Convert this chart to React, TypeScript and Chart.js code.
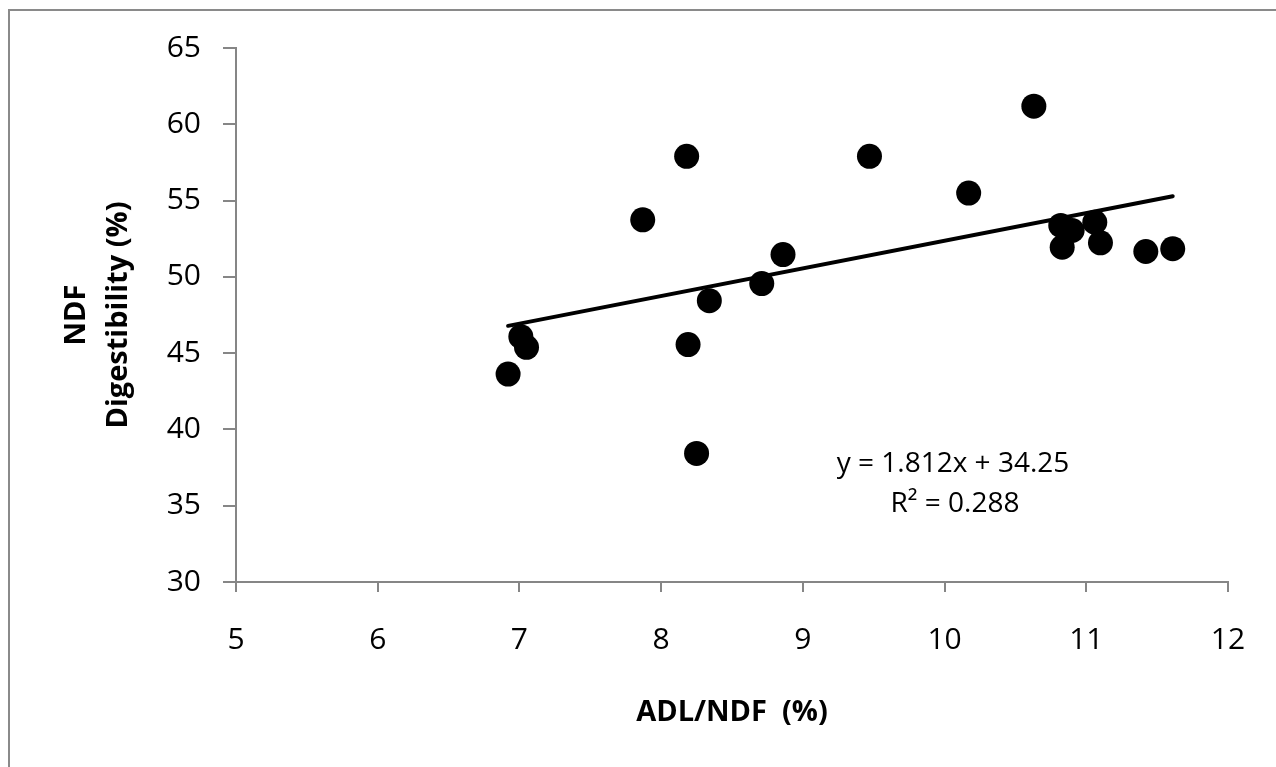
import React, { useEffect, useRef } from "react";
import { Chart, registerables } from "chart.js";

Chart.register(...registerables);

// ADL/NDF (%) values
const adlNdf = [
  8.18, 9.47, 7.87, 8.86, 8.71, 8.34, 7.01, 7.05, 6.92, 8.19, 8.25,
  10.63, 10.17, 10.82, 10.9, 11.06, 10.83, 11.1, 11.42, 11.61,
];
// NDF Digestibility (%) values
const ndfDigestibility = [
  57.9, 57.9, 53.74, 51.46, 49.56, 48.44, 46.08, 45.38, 43.63, 45.56, 38.43,
  61.19, 55.49, 53.37, 53.04, 53.58, 51.94, 52.23, 51.66, 51.84,
];

const xTicks = [5, 6, 7, 8, 9, 10, 11, 12];
const yTicks = [30, 35, 40, 45, 50, 55, 60, 65];

const trendSlope = 1.812;
const trendIntercept = 34.25;
const equationLines = ["y = 1.812x + 34.25", "R\u00b2 = 0.288"];

const xTitle = "ADL/NDF  (%)";
const yTitleLines = ["NDF", "Digestibility (%)"];

const FONT = '"Open Sans", "Noto Sans", sans-serif';
const AXIS_GRAY = "#868686";

export default function App() {
  const canvasRef = useRef<HTMLCanvasElement | null>(null);

  useEffect(() => {
    const canvas = canvasRef.current;
    if (!canvas) return;

    const minX = Math.min(...adlNdf);
    const maxX = Math.max(...adlNdf);

    const textPlugin = {
      id: "textPlugin",
      afterDraw(chart: any) {
        const ctx = chart.ctx as CanvasRenderingContext2D;
        const area = chart.chartArea;
        const cx = (area.left + area.right) / 2;
        const cy = (area.top + area.bottom) / 2;
        ctx.save();
        ctx.fillStyle = "#000";
        ctx.textAlign = "center";
        ctx.textBaseline = "alphabetic";
        // x-axis title
        ctx.font = `bold 29px ${FONT}`;
        ctx.fillText(xTitle, cx, 721);
        // y-axis title (two lines, rotated)
        const baselines = [85, 127];
        yTitleLines.forEach((line, i) => {
          ctx.save();
          ctx.translate(baselines[i], cy);
          ctx.rotate(-Math.PI / 2);
          ctx.fillText(line, 0, 0);
          ctx.restore();
        });
        // trendline equation
        ctx.font = `28px ${FONT}`;
        ctx.fillText(equationLines[0], 953, 472);
        ctx.fillText(equationLines[1], 955, 512);
        ctx.restore();
      },
    };

    const chart = new Chart(canvas, {
      type: "scatter",
      data: {
        datasets: [
          {
            label: "NDF Digestibility",
            data: adlNdf.map((x, i) => ({ x, y: ndfDigestibility[i] })),
            backgroundColor: "#000",
            borderColor: "#000",
            borderWidth: 0,
            pointRadius: 12.5,
            pointHoverRadius: 12.5,
          },
          {
            type: "line",
            label: "Linear trend",
            data: [
              { x: minX, y: trendSlope * minX + trendIntercept },
              { x: maxX, y: trendSlope * maxX + trendIntercept },
            ],
            borderColor: "#000",
            borderWidth: 4,
            borderCapStyle: "round",
            pointRadius: 0,
            fill: false,
            tension: 0,
          } as any,
        ],
      },
      options: {
        responsive: false,
        animation: false,
        events: [],
        layout: { padding: { left: 0, top: 48, right: 48, bottom: 85 } },
        plugins: {
          legend: { display: false },
          tooltip: { enabled: false },
          title: { display: false },
        },
        scales: {
          x: {
            type: "linear",
            position: "bottom",
            min: 5,
            max: 12,
            afterBuildTicks: (scale: any) => {
              scale.ticks = xTicks.map((v) => ({ value: v }));
            },
            afterFit: (scale: any) => {
              scale.height = 100;
            },
            ticks: {
              font: { family: FONT, size: 30 },
              color: "#000",
              padding: 30,
              maxRotation: 0,
            },
            grid: {
              display: true,
              drawOnChartArea: false,
              drawTicks: true,
              tickLength: 10,
              color: AXIS_GRAY,
              lineWidth: 2,
            },
            border: { display: true, color: AXIS_GRAY, width: 2 },
          },
          y: {
            type: "linear",
            min: 30,
            max: 65,
            afterBuildTicks: (scale: any) => {
              scale.ticks = yTicks.map((v) => ({ value: v }));
            },
            afterFit: (scale: any) => {
              scale.width = 236;
            },
            ticks: {
              font: { family: FONT, size: 30 },
              color: "#000",
              padding: 22,
            },
            grid: {
              display: true,
              drawOnChartArea: false,
              drawTicks: true,
              tickLength: 13,
              color: AXIS_GRAY,
              lineWidth: 2,
            },
            border: { display: true, color: AXIS_GRAY, width: 2 },
          },
        },
      },
      plugins: [textPlugin],
    });

    return () => {
      chart.destroy();
    };
  }, []);

  return (
    <div>
      <div
        style={{
          position: "fixed",
          left: 8,
          top: 9,
          width: 2000,
          height: 2000,
          borderTop: "2px solid #8a8a8a",
          borderLeft: "2px solid #8a8a8a",
          background: "#fff",
        }}
      />
      <canvas
        ref={canvasRef}
        width={1276}
        height={767}
        style={{ position: "fixed", left: 0, top: 0, width: 1276, height: 767, display: "block" }}
      />
    </div>
  );
}
